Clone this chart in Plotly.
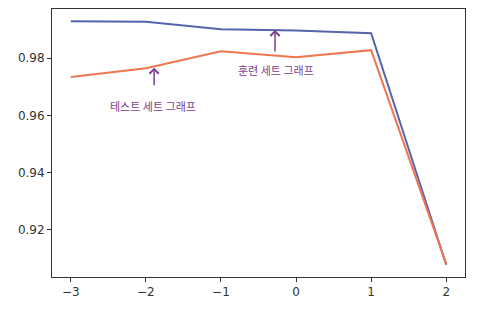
import plotly.graph_objects as go

x_vals = [-3, -2, -1, 0, 1, 2]
train_scores = [0.9929, 0.9927, 0.9901, 0.9897, 0.9887, 0.9078]
test_scores = [0.9734, 0.9765, 0.9824, 0.9803, 0.9828, 0.9080]
x_ticks = [-3, -2, -1, 0, 1, 2]
y_ticks = [0.92, 0.94, 0.96, 0.98]
y_tick_labels = ["0.92", "0.94", "0.96", "0.98"]

purple = "#7e3d8e"
fig = go.Figure()
fig.add_trace(go.Scatter(x=x_vals, y=train_scores, mode="lines",
                         line=dict(color="#5664aa", width=2), name="train"))
fig.add_trace(go.Scatter(x=x_vals, y=test_scores, mode="lines",
                         line=dict(color="#f0764f", width=2), name="test"))

axis_common = dict(showline=True, linecolor="#333333", linewidth=1, mirror=True,
                   ticks="outside", ticklen=4, tickcolor="#333333", showgrid=False,
                   zeroline=False, tickfont=dict(family="DejaVu Sans", size=12, color="#333333"))

fig.update_xaxes(range=[-3.25, 2.25], tickvals=x_ticks, **axis_common)
fig.update_yaxes(range=[0.9035, 0.9972], tickvals=y_ticks, ticktext=y_tick_labels, **axis_common)

kfont = dict(family="Noto Sans CJK KR", size=11, color=purple)
# arrows
fig.add_annotation(x=-1.89, y=0.9767, text="", showarrow=True, ax=0, ay=19,
                   arrowhead=4, arrowsize=1.2, arrowwidth=1.5, arrowcolor=purple)
fig.add_annotation(x=-1.91, y=0.9767, text="테스트 세트 그래프", showarrow=False,
                   yshift=-38, font=kfont)
fig.add_annotation(x=-0.28, y=0.9899, text="", showarrow=True, ax=0, ay=23,
                   arrowhead=4, arrowsize=1.2, arrowwidth=1.5, arrowcolor=purple)
fig.add_annotation(x=-0.27, y=0.9899, text="훈련 세트 그래프", showarrow=False,
                   yshift=-40, font=kfont)

fig.update_layout(width=481, height=310, margin=dict(l=52, r=16, t=9, b=33),
                  plot_bgcolor="white", paper_bgcolor="white", showlegend=False)
fig.write_html("out.html")
